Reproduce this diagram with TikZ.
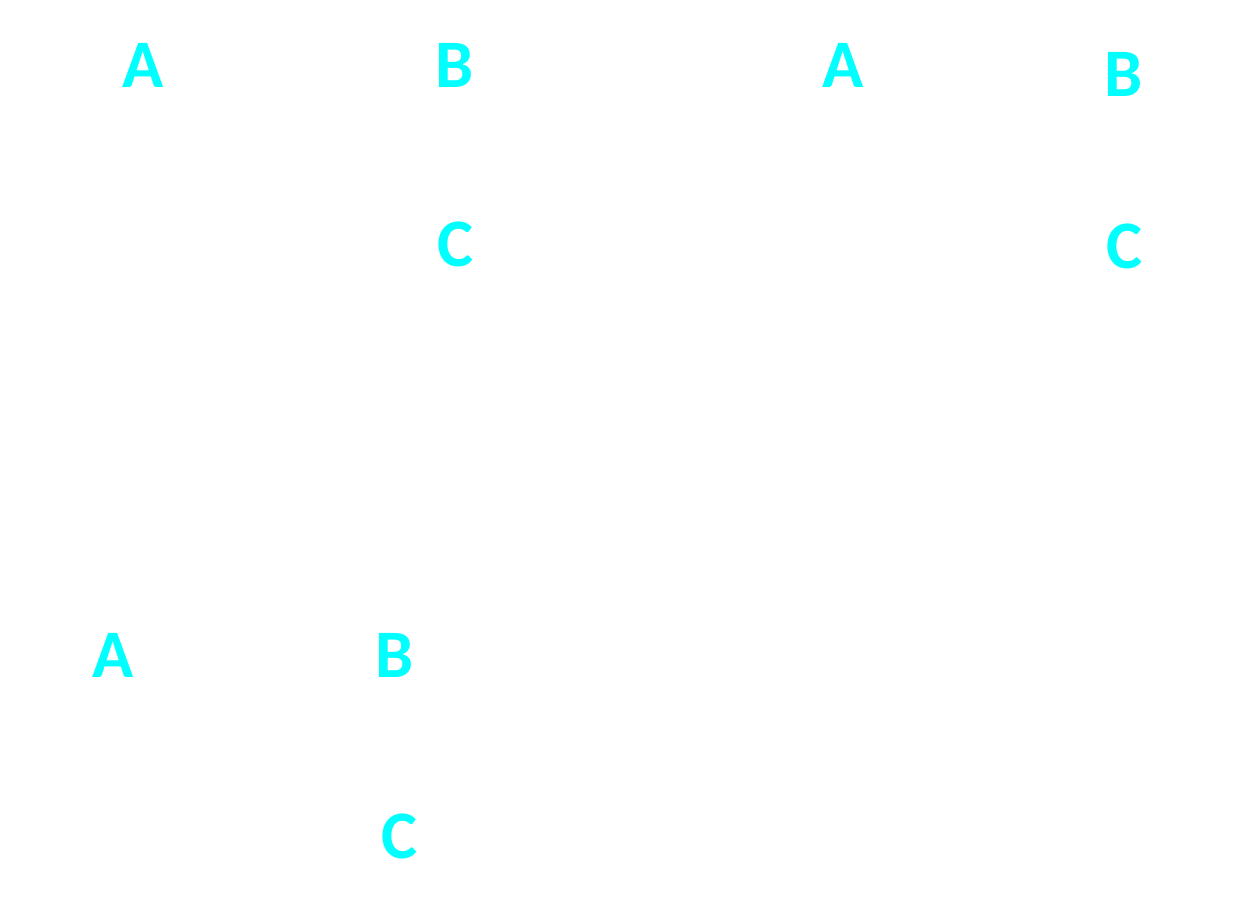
\documentclass[tikz,border=0pt]{standalone}
\usepackage{fontspec}
\setmainfont{Carlito}
\definecolor{lettercyan}{HTML}{00FFFF}
\begin{document}
\begin{tikzpicture}[x=1pt,y=-1pt,
  letter/.style={text=lettercyan,inner sep=0pt,anchor=center,text height=45pt,text depth=0pt,
    font=\fontsize{68}{80}\selectfont\bfseries}]
\useasboundingbox (0,0) rectangle (1238,900);
% group 1
\node[letter] (a1) at (143,64.5) {A};
\node[letter] (b1) at (455,64.5) {B};
\node[letter] (c1) at (455,243.5) {C};
% group 2
\node[letter] (a2) at (843,64.5) {A};
\node[letter] (b2) at (1124,74) {B};
\node[letter] (c2) at (1124,245.5) {C};
% group 3
\node[letter] (a3) at (113,654.5) {A};
\node[letter] (b3) at (395,654.5) {B};
\node[letter] (c3) at (399,835.5) {C};
\end{tikzpicture}
\end{document}
